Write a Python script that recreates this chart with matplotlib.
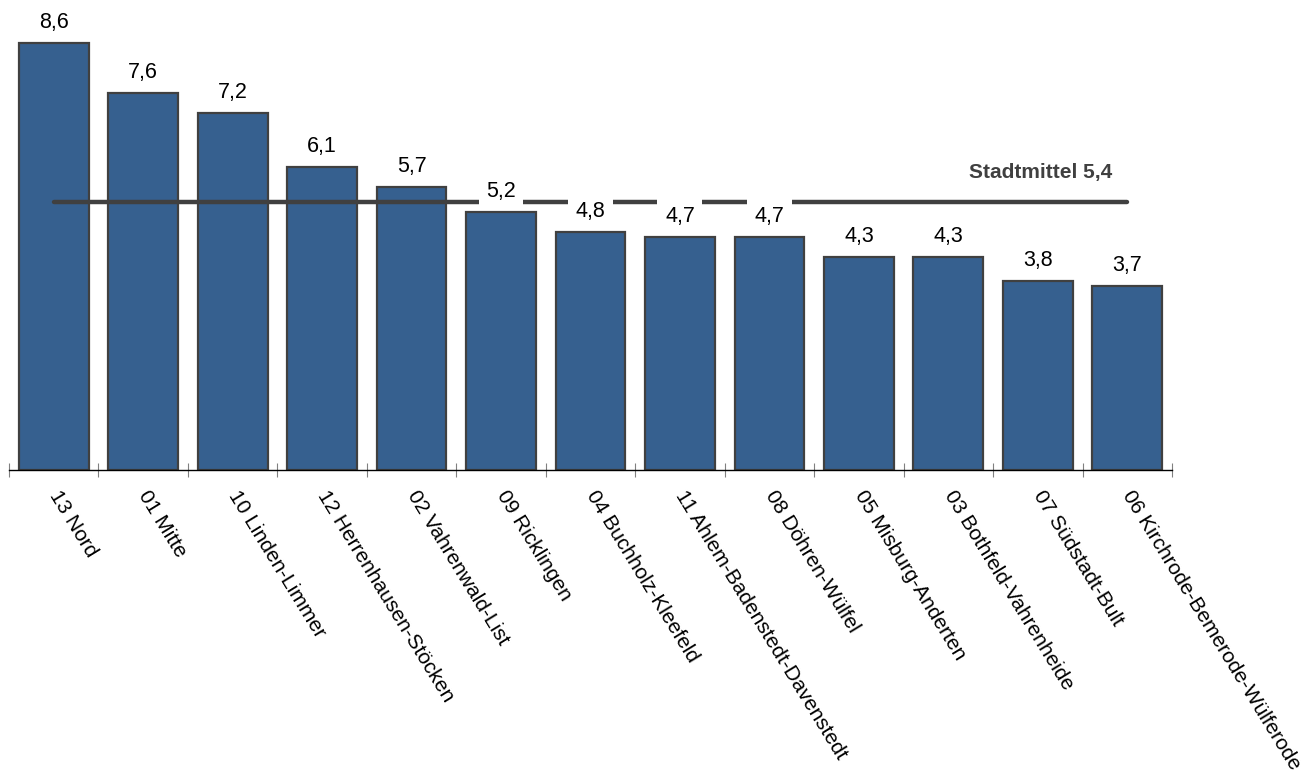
import matplotlib.pyplot as plt
import matplotlib.transforms as mtransforms
import numpy as np

plt.rcParams['font.family'] = ['Liberation Sans', 'DejaVu Sans']

bezirke = ['13 Nord', '01 Mitte', '10 Linden-Limmer', '12 Herrenhausen-Stöcken',
           '02 Vahrenwald-List', '09 Ricklingen', '04 Buchholz-Kleefeld',
           '11 Ahlem-Badenstedt-Davenstedt', '08 Döhren-Wülfel', '05 Misburg-Anderten',
           '03 Bothfeld-Vahrenheide', '07 Südstadt-Bult', '06 Kirchrode-Bemerode-Wülferode']
werte = [8.6, 7.6, 7.2, 6.1, 5.7, 5.2, 4.8, 4.7, 4.7, 4.3, 4.3, 3.8, 3.7]
stadtmittel = 5.4

bar_color = '#36608F'
edge_color = '#404040'

fig = plt.figure(figsize=(13.13, 7.74), dpi=100)
ax = fig.add_axes([9 / 1313, 304 / 774, (1172 - 9) / 1313, 470 / 774])

x = np.arange(len(werte))
ax.bar(x, werte, width=0.78, color=bar_color, edgecolor=edge_color, linewidth=1.6, zorder=2)

# Stadtmittel line across bar centres
ax.plot([x[0], x[-1]], [stadtmittel, stadtmittel], color='#404040', lw=3.2,
        solid_capstyle='round', zorder=3)
ax.text(x[-1] - 0.17, stadtmittel + 0.6, 'Stadtmittel ' + str(stadtmittel).replace('.', ','),
        ha='right', va='center', fontsize=15, fontweight='bold', color='#404040', zorder=5)

# value labels, white box cuts the average line
for xi, v in zip(x, werte):
    ax.text(xi, v + 0.3, str(v).replace('.', ','), ha='center', va='baseline', fontsize=15.5,
            color='black', zorder=4,
            bbox=dict(facecolor='white', edgecolor='none', pad=5.5))

ax.set_xlim(-0.5, len(werte) - 0.5)
ax.set_ylim(0, 470 / 49.65)

ax.set_xticks(x)
ax.set_xticklabels(bezirke, rotation=-58.5, ha='left', va='top', rotation_mode='anchor',
                   fontsize=15)
ax.tick_params(axis='x', which='major', length=0, pad=12)
ax.set_xticks(np.arange(-0.5, len(werte), 1.0), minor=True)
ax.tick_params(axis='x', which='minor', direction='inout', length=10, width=0.8,
               color='#808080')
shift = mtransforms.ScaledTranslation(8 / 100, 0, fig.dpi_scale_trans)
for lab in ax.get_xticklabels():
    lab.set_transform(lab.get_transform() + shift)

ax.set_yticks([])
for side in ['top', 'right', 'left']:
    ax.spines[side].set_visible(False)
ax.spines['bottom'].set_linewidth(1.0)
ax.spines['bottom'].set_color('black')

fig.savefig('out.png', dpi=100)
